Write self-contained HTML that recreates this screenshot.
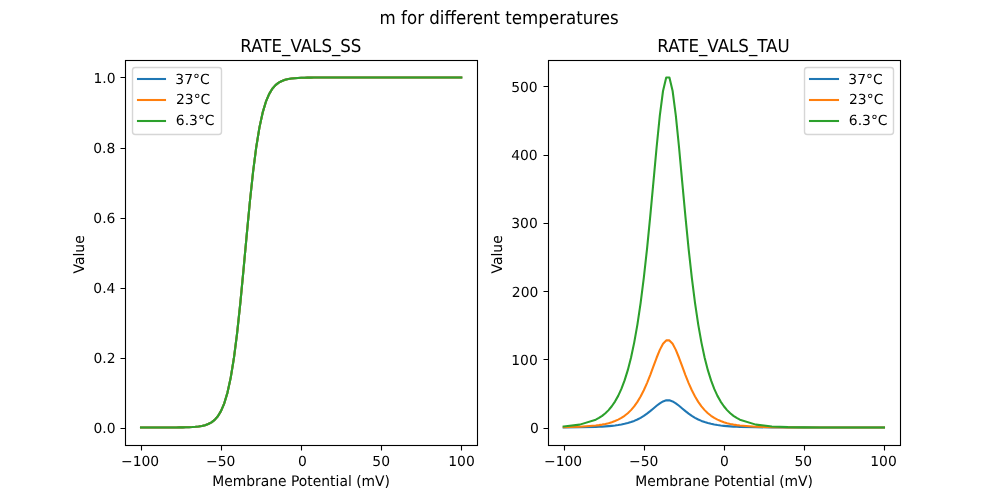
<!DOCTYPE html>
<html lang="en"><head><meta charset="utf-8"><title>m for different temperatures</title>
<style>html,body{margin:0;padding:0;background:#fff}body{width:1000px;height:500px;overflow:hidden}svg{display:block;text-rendering:geometricPrecision}</style>
</head><body>
<svg width="1000" height="500" viewBox="0 0 1000 500" style="font-family:'DejaVu Sans',sans-serif" fill="#000">
<rect width="1000" height="500" fill="#fff"/>
<g id="axes1">
<clipPath id="clip1"><rect x="125" y="60" width="352.273" height="385"/></clipPath>
<g clip-path="url(#clip1)" fill="none" stroke-width="2.083" stroke-linecap="square" stroke-linejoin="round">
<path d="M141.012 427.5 L157.025 427.495 L173.037 427.458 L176.24 427.436 L179.442 427.405 L182.645 427.357 L185.847 427.287 L189.05 427.182 L192.252 427.025 L195.455 426.792 L198.657 426.444 L201.86 425.927 L205.062 425.158 L208.264 424.018 L211.467 422.33 L214.669 419.842 L217.872 416.197 L221.074 410.902 L224.277 403.302 L227.479 392.588 L230.682 377.853 L233.884 358.265 L237.087 333.371 L240.289 303.48 L243.492 269.942 L246.694 235.058 L249.897 201.521 L253.099 171.63 L256.302 146.736 L259.504 127.148 L262.707 112.413 L265.909 101.699 L269.112 94.099 L272.314 88.803 L275.517 85.158 L278.719 82.671 L281.921 80.983 L285.124 79.843 L288.326 79.074 L291.529 78.556 L294.731 78.209 L297.934 77.975 L301.136 77.819 L304.339 77.714 L307.541 77.643 L310.744 77.596 L313.946 77.564 L317.149 77.543 L333.161 77.506 L349.174 77.501 L365.186 77.5 L381.198 77.5 L397.211 77.5 L413.223 77.5 L429.236 77.5 L445.248 77.5 L461.26 77.5" stroke="#1f77b4"/>
<path d="M141.012 427.5 L157.025 427.495 L173.037 427.458 L176.24 427.436 L179.442 427.405 L182.645 427.357 L185.847 427.287 L189.05 427.182 L192.252 427.025 L195.455 426.792 L198.657 426.444 L201.86 425.927 L205.062 425.158 L208.264 424.018 L211.467 422.33 L214.669 419.842 L217.872 416.197 L221.074 410.902 L224.277 403.302 L227.479 392.588 L230.682 377.853 L233.884 358.265 L237.087 333.371 L240.289 303.48 L243.492 269.942 L246.694 235.058 L249.897 201.521 L253.099 171.63 L256.302 146.736 L259.504 127.148 L262.707 112.413 L265.909 101.699 L269.112 94.099 L272.314 88.803 L275.517 85.158 L278.719 82.671 L281.921 80.983 L285.124 79.843 L288.326 79.074 L291.529 78.556 L294.731 78.209 L297.934 77.975 L301.136 77.819 L304.339 77.714 L307.541 77.643 L310.744 77.596 L313.946 77.564 L317.149 77.543 L333.161 77.506 L349.174 77.501 L365.186 77.5 L381.198 77.5 L397.211 77.5 L413.223 77.5 L429.236 77.5 L445.248 77.5 L461.26 77.5" stroke="#ff7f0e"/>
<path d="M141.012 427.5 L157.025 427.495 L173.037 427.458 L176.24 427.436 L179.442 427.405 L182.645 427.357 L185.847 427.287 L189.05 427.182 L192.252 427.025 L195.455 426.792 L198.657 426.444 L201.86 425.927 L205.062 425.158 L208.264 424.018 L211.467 422.33 L214.669 419.842 L217.872 416.197 L221.074 410.902 L224.277 403.302 L227.479 392.588 L230.682 377.853 L233.884 358.265 L237.087 333.371 L240.289 303.48 L243.492 269.942 L246.694 235.058 L249.897 201.521 L253.099 171.63 L256.302 146.736 L259.504 127.148 L262.707 112.413 L265.909 101.699 L269.112 94.099 L272.314 88.803 L275.517 85.158 L278.719 82.671 L281.921 80.983 L285.124 79.843 L288.326 79.074 L291.529 78.556 L294.731 78.209 L297.934 77.975 L301.136 77.819 L304.339 77.714 L307.541 77.643 L310.744 77.596 L313.946 77.564 L317.149 77.543 L333.161 77.506 L349.174 77.501 L365.186 77.5 L381.198 77.5 L397.211 77.5 L413.223 77.5 L429.236 77.5 L445.248 77.5 L461.26 77.5" stroke="#2ca02c"/>
</g>
<path d="M141.5 445.5V450.5M221.5 445.5V450.5M301.5 445.5V450.5M381.5 445.5V450.5M461.5 445.5V450.5M125.5 428.5H120.5M125.5 358.5H120.5M125.5 288.5H120.5M125.5 218.5H120.5M125.5 148.5H120.5M125.5 77.5H120.5" stroke="#000" stroke-width="1.111" fill="none"/>
<rect x="125.5" y="60.5" width="352" height="385" fill="none" stroke="#000" stroke-width="1.111"/>
<text x="140.131" y="466" font-size="13.889" text-anchor="middle">−100</text>
<text x="220.66" y="466" font-size="13.889" text-anchor="middle">−50</text>
<text x="302.394" y="466" font-size="13.889" text-anchor="middle">0</text>
<text x="381.163" y="466" font-size="13.889" text-anchor="middle">50</text>
<text x="461.547" y="466" font-size="13.889" text-anchor="middle">100</text>
<text x="115.478" y="433" font-size="13.889" text-anchor="end">0.0</text>
<text x="115.513" y="363" font-size="13.889" text-anchor="end">0.2</text>
<text x="115.434" y="293" font-size="13.889" text-anchor="end">0.4</text>
<text x="115.45" y="223" font-size="13.889" text-anchor="end">0.6</text>
<text x="115.348" y="153" font-size="13.889" text-anchor="end">0.8</text>
<text x="115.542" y="83" font-size="13.889" text-anchor="end">1.0</text>
<text transform="translate(301.095 486) scale(1 1.05)" font-size="13.889" text-anchor="middle">Membrane Potential (mV)</text>
<text transform="translate(83.706 254.377) rotate(-90) scale(1 1.05)" font-size="13.889" text-anchor="middle">Value</text>
<text transform="translate(300.898 52) scale(1 1.07)" font-size="16.667" text-anchor="middle">RATE_VALS_SS</text>
<rect x="132.5" y="67.5" width="89" height="67" rx="2.778" fill="#fff" stroke="#ccc" stroke-width="1.389" opacity="0.8"/>
<path d="M136.958 79H166.042" stroke="#1f77b4" stroke-width="2.083" fill="none"/>
<path d="M136.958 100H166.042" stroke="#ff7f0e" stroke-width="2.083" fill="none"/>
<path d="M136.958 121H166.042" stroke="#2ca02c" stroke-width="2.083" fill="none"/>
<text x="175.316" y="84" font-size="13.889" text-anchor="start">37°C</text>
<text x="176.016" y="104" font-size="13.889" text-anchor="start">23°C</text>
<text x="175.857" y="125" font-size="13.889" text-anchor="start">6.3°C</text>
</g>
<g id="axes2">
<clipPath id="clip2"><rect x="547.727" y="60" width="352.273" height="385"/></clipPath>
<g clip-path="url(#clip2)" fill="none" stroke-width="2.083" stroke-linecap="square" stroke-linejoin="round">
<path d="M563.74 427.418 L579.752 427.277 L595.764 426.894 L598.967 426.76 L602.169 426.596 L605.372 426.396 L608.574 426.152 L611.777 425.854 L614.979 425.491 L618.182 425.048 L621.384 424.508 L624.587 423.851 L627.789 423.053 L630.992 422.086 L634.194 420.919 L637.397 419.52 L640.599 417.857 L643.802 415.906 L647.004 413.662 L650.207 411.154 L653.409 408.469 L656.612 405.772 L659.814 403.314 L663.017 401.41 L666.219 400.363 L669.421 400.363 L672.624 401.41 L675.826 403.314 L679.029 405.772 L682.231 408.469 L685.434 411.154 L688.636 413.662 L691.839 415.906 L695.041 417.857 L698.244 419.52 L701.446 420.919 L704.649 422.086 L707.851 423.053 L711.054 423.851 L714.256 424.508 L717.459 425.048 L720.661 425.491 L723.864 425.854 L727.066 426.152 L730.269 426.396 L733.471 426.596 L736.674 426.76 L739.876 426.894 L755.888 427.277 L771.901 427.418 L787.913 427.47 L803.926 427.489 L819.938 427.496 L835.95 427.499 L851.963 427.5 L867.975 427.5 L883.988 427.5" stroke="#1f77b4"/>
<path d="M563.74 427.237 L579.752 426.785 L595.764 425.556 L598.967 425.125 L602.169 424.6 L605.372 423.958 L608.574 423.175 L611.777 422.219 L614.979 421.052 L618.182 419.63 L621.384 417.897 L624.587 415.788 L627.789 413.227 L630.992 410.124 L634.194 406.38 L637.397 401.89 L640.599 396.553 L643.802 390.292 L647.004 383.09 L650.207 375.041 L653.409 366.423 L656.612 357.765 L659.814 349.878 L663.017 343.768 L666.219 340.407 L669.421 340.407 L672.624 343.768 L675.826 349.878 L679.029 357.765 L682.231 366.423 L685.434 375.041 L688.636 383.09 L691.839 390.292 L695.041 396.553 L698.244 401.89 L701.446 406.38 L704.649 410.124 L707.851 413.227 L711.054 415.788 L714.256 417.897 L717.459 419.63 L720.661 421.052 L723.864 422.219 L727.066 423.175 L730.269 423.958 L733.471 424.6 L736.674 425.125 L739.876 425.556 L755.888 426.785 L771.901 427.237 L787.913 427.403 L803.926 427.464 L819.938 427.487 L835.95 427.495 L851.963 427.498 L867.975 427.499 L883.988 427.5" stroke="#ff7f0e"/>
<path d="M563.74 426.442 L579.752 424.625 L595.764 419.686 L598.967 417.956 L602.169 415.844 L605.372 413.266 L608.574 410.118 L611.777 406.275 L614.979 401.588 L618.182 395.872 L621.384 388.908 L624.587 380.433 L627.789 370.14 L630.992 357.67 L634.194 342.624 L637.397 324.58 L640.599 303.132 L643.802 277.972 L647.004 249.029 L650.207 216.683 L653.409 182.05 L656.612 147.258 L659.814 115.56 L663.017 91.005 L666.219 77.5 L669.421 77.5 L672.624 91.005 L675.826 115.56 L679.029 147.258 L682.231 182.05 L685.434 216.683 L688.636 249.029 L691.839 277.972 L695.041 303.132 L698.244 324.58 L701.446 342.624 L704.649 357.67 L707.851 370.14 L711.054 380.433 L714.256 388.908 L717.459 395.872 L720.661 401.588 L723.864 406.275 L727.066 410.118 L730.269 413.266 L733.471 415.844 L736.674 417.956 L739.876 419.686 L755.888 424.625 L771.901 426.442 L787.913 427.111 L803.926 427.357 L819.938 427.447 L835.95 427.481 L851.963 427.493 L867.975 427.497 L883.988 427.499" stroke="#2ca02c"/>
</g>
<path d="M564.5 445.5V450.5M644.5 445.5V450.5M724.5 445.5V450.5M804.5 445.5V450.5M884.5 445.5V450.5M548.5 428.5H543.5M548.5 359.5H543.5M548.5 291.5H543.5M548.5 223.5H543.5M548.5 155.5H543.5M548.5 86.5H543.5" stroke="#000" stroke-width="1.111" fill="none"/>
<rect x="548.5" y="60.5" width="352" height="385" fill="none" stroke="#000" stroke-width="1.111"/>
<text x="563.144" y="466" font-size="13.889" text-anchor="middle">−100</text>
<text x="643.648" y="466" font-size="13.889" text-anchor="middle">−50</text>
<text x="724.36" y="466" font-size="13.889" text-anchor="middle">0</text>
<text x="803.248" y="466" font-size="13.889" text-anchor="middle">50</text>
<text x="883.531" y="466" font-size="13.889" text-anchor="middle">100</text>
<text x="538.759" y="433" font-size="13.889" text-anchor="end">0</text>
<text x="537.775" y="365" font-size="13.889" text-anchor="end">100</text>
<text x="538.336" y="297" font-size="13.889" text-anchor="end">200</text>
<text x="537.766" y="228" font-size="13.889" text-anchor="end">300</text>
<text x="537.612" y="160" font-size="13.889" text-anchor="end">400</text>
<text x="537.651" y="92" font-size="13.889" text-anchor="end">500</text>
<text transform="translate(724.094 486) scale(1 1.05)" font-size="13.889" text-anchor="middle">Membrane Potential (mV)</text>
<text transform="translate(502.055 254.377) rotate(-90) scale(1 1.05)" font-size="13.889" text-anchor="middle">Value</text>
<text transform="translate(723.51 52) scale(1 1.07)" font-size="16.667" text-anchor="middle">RATE_VALS_TAU</text>
<rect x="804.5" y="67.5" width="89" height="67" rx="2.778" fill="#fff" stroke="#ccc" stroke-width="1.389" opacity="0.8"/>
<path d="M808.958 79H839.042" stroke="#1f77b4" stroke-width="2.083" fill="none"/>
<path d="M808.958 100H839.042" stroke="#ff7f0e" stroke-width="2.083" fill="none"/>
<path d="M808.958 121H839.042" stroke="#2ca02c" stroke-width="2.083" fill="none"/>
<text x="848.333" y="84" font-size="13.889" text-anchor="start">37°C</text>
<text x="849.054" y="104" font-size="13.889" text-anchor="start">23°C</text>
<text x="848.868" y="125" font-size="13.889" text-anchor="start">6.3°C</text>
</g>
<text transform="translate(499.132 24) scale(1 1.1)" font-size="16.667" text-anchor="middle">m for different temperatures</text>
</svg>
</body></html>
